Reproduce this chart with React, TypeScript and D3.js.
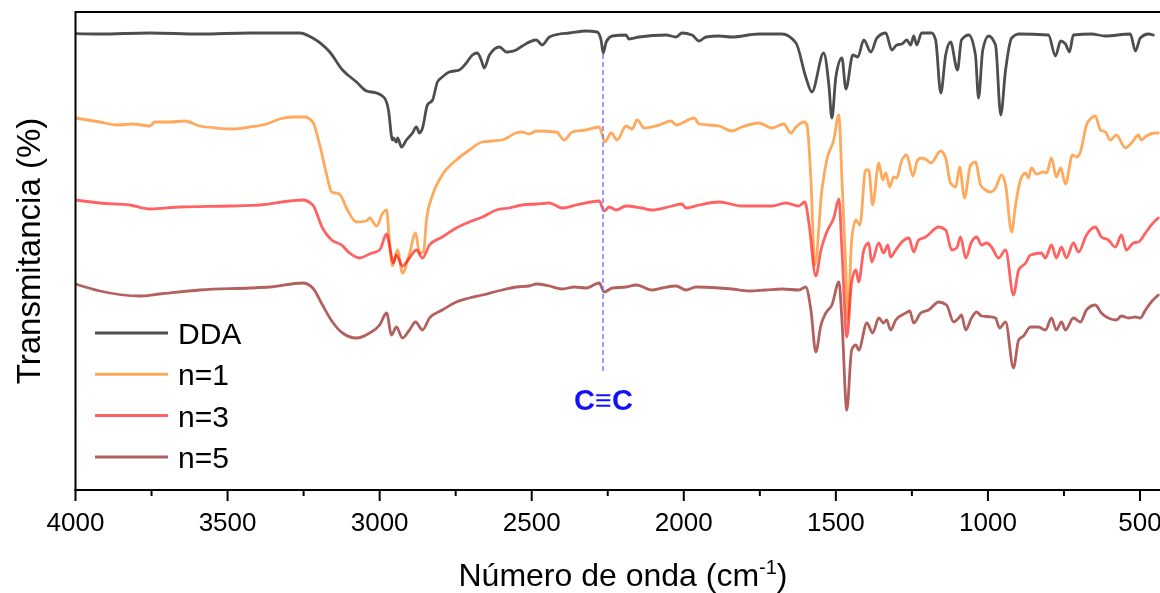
import React from "react";
import * as d3 from "d3";

// FTIR spectra: [wavenumber (cm-1), transmittance (arb. units, offset)]
const DDA: [number, number][] = [
  [4000, 114.1], [3920, 114], [3756, 114.25], [3591, 114], [3427, 114.25], [3263, 114.25],
  [3220, 113], [3164, 109.5], [3122, 105], [3076, 102], [3043, 99.75], [3010, 99.25],
  [2984, 98], [2971, 95], [2958, 87.5], [2955, 88], [2945, 87], [2941, 88], [2928, 85.75],
  [2912, 87.5], [2892, 89.25], [2879, 90.75], [2869, 89.25], [2859, 90.5], [2843, 96.25],
  [2826, 97.5], [2810, 102], [2794, 103.25], [2771, 104.5], [2738, 105], [2715, 106.75],
  [2695, 108.75], [2679, 109.25], [2666, 107.5], [2656, 105.5], [2639, 108.75], [2606, 110.75],
  [2583, 109.5], [2551, 110], [2531, 111], [2485, 112.5], [2465, 111.25], [2442, 113.25],
  [2409, 114], [2377, 114.25], [2321, 114.75], [2285, 114.5], [2272, 112.5], [2265, 109.25],
  [2255, 112], [2235, 113.5], [2190, 113.75], [2180, 112.75], [2147, 113.25], [2058, 113.75],
  [2025, 113.25], [2006, 114.25], [1973, 113.75], [1950, 112.25], [1927, 113.25], [1884, 113.5],
  [1842, 113.25], [1753, 114], [1677, 114], [1631, 111.75], [1599, 103.25], [1579, 99.5],
  [1540, 109.25], [1523, 101.25], [1513, 93], [1500, 103.25], [1480, 108], [1467, 100.25],
  [1444, 108.75], [1428, 108.25], [1408, 112.5], [1385, 109.5], [1365, 113], [1336, 114.25],
  [1316, 110], [1300, 111.25], [1283, 111.5], [1267, 112.5], [1254, 111.25], [1244, 113.5],
  [1234, 111.25], [1218, 114.25], [1185, 114.25], [1172, 112.5], [1155, 99.25], [1139, 108.75],
  [1123, 112], [1100, 105], [1087, 112.5], [1063, 113.75], [1041, 108.75], [1031, 98],
  [1017, 110], [998, 113.5], [975, 111.25], [958, 93.75], [942, 105], [922, 113], [899, 114],
  [801, 113.75], [778, 108.5], [761, 112.25], [745, 111.5], [732, 109.5], [719, 113.75],
  [660, 114], [614, 113.5], [532, 114], [515, 109.75], [499, 113], [473, 114], [456, 113.75],
];

const N1: [number, number][] = [
  [4000, 93], [3920, 92], [3864, 91.25], [3811, 91.5], [3756, 91], [3739, 92], [3690, 92],
  [3641, 92.25], [3591, 91], [3536, 90.5], [3483, 90.25], [3427, 90.75], [3371, 91.5],
  [3329, 92.75], [3286, 93.25], [3247, 93.25], [3220, 92], [3197, 86.25], [3174, 78.75],
  [3158, 74.5], [3132, 74], [3109, 70.5], [3076, 67], [3043, 67.25], [3033, 68], [3010, 66],
  [2990, 69.25], [2977, 70], [2968, 62.5], [2958, 56], [2941, 60], [2925, 54.25], [2902, 59],
  [2882, 64.25], [2869, 59.25], [2856, 59.5], [2846, 67.5], [2826, 73.75], [2794, 78.75],
  [2748, 82.5], [2705, 85], [2662, 87], [2597, 87.5], [2551, 89.25], [2531, 89.5], [2508, 89],
  [2485, 89.75], [2419, 89.5], [2393, 87.5], [2367, 89.5], [2321, 90], [2278, 90.75],
  [2259, 87], [2239, 89.25], [2219, 87.5], [2190, 91], [2170, 90.25], [2153, 92.5], [2130, 90.5],
  [2081, 91.25], [2042, 92.25], [2025, 91.25], [1966, 93], [1950, 91.5], [1884, 91],
  [1842, 89.75], [1809, 90.75], [1753, 91.75], [1710, 90.5], [1671, 91.5], [1648, 89.25],
  [1631, 90.75], [1605, 92], [1595, 91.25], [1582, 77.5], [1569, 56.25], [1546, 75],
  [1530, 82.5], [1507, 87.5], [1490, 93.75], [1480, 77.5], [1467, 55], [1461, 42.5],
  [1448, 62.5], [1434, 67.5], [1421, 66.25], [1402, 80], [1392, 80], [1379, 71.25],
  [1359, 81.75], [1346, 77.5], [1336, 79.25], [1323, 75.75], [1310, 78.25], [1300, 78],
  [1283, 82.5], [1267, 83.75], [1247, 78.5], [1231, 82.5], [1218, 83], [1201, 82.5],
  [1188, 81.75], [1155, 84.75], [1139, 83], [1123, 76.75], [1106, 75.75], [1093, 80.75],
  [1077, 73], [1057, 81.25], [1041, 82], [1024, 76.25], [1008, 75], [991, 74.5], [975, 75.5],
  [955, 78.75], [942, 76.25], [922, 64.5], [909, 71.25], [893, 77.5], [876, 79.25], [867, 78],
  [857, 80.5], [840, 79], [817, 79.5], [807, 79.25], [791, 83], [775, 78.25], [761, 80.5],
  [745, 76.5], [722, 83.75], [709, 83.25], [696, 84.5], [676, 91.25], [660, 93], [647, 93.5],
  [630, 90], [614, 89.5], [597, 87.5], [578, 88.75], [548, 85.5], [528, 86.75], [505, 88.75],
  [496, 87.5], [479, 88.5], [450, 89.25], [440, 89.25],
];

const N3: [number, number][] = [
  [4000, 72.5], [3920, 71.75], [3821, 71.25], [3756, 70.25], [3657, 70.75], [3493, 71],
  [3394, 71.25], [3296, 72.25], [3253, 72.5], [3220, 71.25], [3188, 65.5], [3158, 62.5],
  [3125, 61.25], [3099, 59.25], [3066, 58], [3033, 59], [3000, 60], [2977, 64], [2968, 61.25],
  [2955, 56.75], [2945, 58.75], [2925, 56], [2902, 58], [2879, 60], [2859, 58], [2836, 61.25],
  [2794, 63.25], [2748, 65.5], [2705, 67], [2662, 68.25], [2616, 70], [2574, 70.5],
  [2531, 71.25], [2485, 71.5], [2442, 71.75], [2400, 70.5], [2354, 71.25], [2278, 72.25],
  [2262, 69.75], [2245, 70.75], [2222, 70], [2190, 71], [2140, 70.5], [2104, 70], [2038, 71],
  [2006, 71.5], [1993, 70.5], [1950, 71.25], [1884, 72], [1809, 71], [1710, 71], [1664, 71.75],
  [1622, 71], [1602, 72], [1589, 67], [1566, 53.5], [1549, 60], [1530, 64.5], [1507, 68],
  [1490, 72.75], [1480, 60], [1464, 38.25], [1448, 52], [1434, 55], [1425, 52], [1408, 60],
  [1392, 61.75], [1382, 57], [1359, 61.75], [1343, 59.25], [1329, 61.25], [1320, 58.25],
  [1303, 60], [1283, 62], [1260, 63], [1244, 59.5], [1228, 62.5], [1205, 63.25], [1162, 65.75],
  [1139, 65], [1119, 60], [1103, 60.5], [1090, 63.25], [1073, 58], [1054, 62], [1037, 63.25],
  [1021, 61.25], [1004, 61.75], [988, 60.75], [965, 58], [942, 60], [916, 48.75], [899, 55],
  [876, 56.75], [860, 58.75], [824, 59.25], [811, 58], [791, 61.25], [775, 58], [758, 60.75],
  [742, 58], [719, 61.75], [702, 59.5], [676, 63.75], [647, 65.75], [627, 63.25], [604, 62.5],
  [581, 60.75], [561, 63.75], [545, 60], [522, 61.75], [505, 62], [482, 64.25], [463, 66.25],
  [440, 68],
];

const N5: [number, number][] = [
  [4000, 51.5], [3920, 49.75], [3788, 48.5], [3723, 49], [3591, 50], [3427, 50.5],
  [3362, 50.75], [3253, 51.75], [3220, 50.5], [3188, 46.25], [3155, 42], [3122, 39.25],
  [3076, 38], [3033, 39.25], [3000, 41.25], [2977, 44.25], [2961, 38.75], [2945, 40.75],
  [2925, 38], [2902, 40], [2882, 42], [2859, 40], [2836, 43], [2794, 45], [2748, 47],
  [2705, 48], [2662, 48.75], [2597, 50], [2551, 50.75], [2508, 51], [2485, 51.5], [2442, 51],
  [2400, 50.25], [2360, 50.75], [2321, 50.5], [2278, 51.75], [2262, 49.5], [2235, 50.5],
  [2190, 50.75], [2157, 51.25], [2104, 50], [2071, 50.5], [2025, 51], [1993, 50], [1960, 50.75],
  [1884, 50.5], [1842, 50.25], [1786, 49.75], [1730, 50], [1677, 50.25], [1622, 50],
  [1599, 50.75], [1582, 45], [1566, 34.5], [1549, 41.25], [1533, 44.25], [1513, 46.25],
  [1490, 52], [1480, 42.5], [1464, 20], [1448, 35], [1434, 36.25], [1425, 35], [1398, 41.75],
  [1379, 39.25], [1359, 43], [1343, 41.75], [1333, 42.5], [1320, 40], [1303, 42.5],
  [1270, 44.25], [1257, 44.75], [1244, 41.75], [1221, 44.25], [1195, 45], [1162, 47],
  [1136, 46.25], [1113, 42], [1096, 43], [1087, 43.75], [1073, 40], [1054, 43], [1037, 44.5],
  [1021, 43.5], [988, 43.25], [975, 43], [962, 40.5], [942, 42], [916, 30.5], [899, 37.5],
  [883, 38.5], [860, 40.75], [834, 40.75], [811, 40], [791, 43], [775, 40], [758, 42], [745, 40],
  [719, 43], [696, 42], [676, 45], [647, 46.25], [627, 44.25], [604, 43], [578, 42.5],
  [561, 43.5], [538, 43], [515, 43.25], [499, 43], [482, 45], [463, 47], [440, 48.75],
];

const SERIES_NAMES = ["DDA", "n=1", "n=3", "n=5"];
const SERIES_DATA = [DDA, N1, N3, N5];
const SERIES_COLORS = ["#4e4e4e", "#ffa95c", "#ff6262", "#b2615f"];

const X_MAJOR = [4000, 3500, 3000, 2500, 2000, 1500, 1000, 500];
const X_MINOR = [3750, 3250, 2750, 2250, 1750, 1250, 750];
const CC_POSITION = 2264;
const CC_LABEL = "C\u2261C";

const W = 1160;
const H = 593;
const FONT = "'Liberation Sans', Arial, Helvetica, sans-serif";

export default function App() {
  const x = d3.scaleLinear().domain([4000, 500]).range([75.5, 1140]);
  const y = d3.scaleLinear().domain([0, 119.5]).range([490, 12]);
  const left = x(4000);
  const top = y(119.5);
  const bottom = y(0);
  const ccX = Math.round(x(CC_POSITION));

  const line = d3
    .line<[number, number]>()
    .x((d) => x(d[0]))
    .y((d) => y(d[1]))
    .curve(d3.curveMonotoneX);

  React.useEffect(() => {
    document.body.style.margin = "0";
  }, []);

  return (
    <svg
      width={W}
      height={H}
      style={{ position: "fixed", left: 0, top: 0, background: "#fff", overflow: "hidden" }}
      fontFamily={FONT}
    >
      <defs>
        <clipPath id="plot">
          <rect x={left} y={top} width={W - left} height={bottom - top} />
        </clipPath>
      </defs>

      <g clipPath="url(#plot)">
        {SERIES_DATA.map((s, i) => (
          <path
            key={SERIES_NAMES[i]}
            d={line(s) || ""}
            fill="none"
            stroke={SERIES_COLORS[i]}
            strokeWidth={2.8}
            strokeLinejoin="round"
            strokeLinecap="round"
            style={{ mixBlendMode: "multiply" }}
          />
        ))}
      </g>

      <line
        x1={ccX}
        x2={ccX}
        y1={y(109)}
        y2={y(29.5)}
        stroke="#7a7aff"
        strokeWidth={1.5}
        strokeDasharray="5,3"
      />

      <text
        x={x(CC_POSITION)}
        y={410}
        textAnchor="middle"
        fontSize={29}
        fontWeight="bold"
        fill="#1010ff"
      >
        {CC_LABEL}
      </text>

      {/* frame */}
      <line x1={left} x2={W} y1={top} y2={top} stroke="#000" strokeWidth={2} />
      <line x1={left} x2={left} y1={top - 1} y2={bottom + 1} stroke="#000" strokeWidth={2} />
      <line x1={left - 1} x2={W} y1={bottom} y2={bottom} stroke="#000" strokeWidth={2} />

      {X_MAJOR.map((t) => (
        <g key={t}>
          <line x1={x(t)} x2={x(t)} y1={bottom} y2={bottom + 11} stroke="#000" strokeWidth={2} />
          <text x={x(t)} y={531} textAnchor="middle" fontSize={26} fill="#000">
            {t}
          </text>
        </g>
      ))}
      {X_MINOR.map((t) => (
        <line key={t} x1={x(t)} x2={x(t)} y1={bottom} y2={bottom + 6} stroke="#000" strokeWidth={2} />
      ))}

      <text x={623} y={586} textAnchor="middle" fontSize={32} fill="#000">
        Número de onda (cm<tspan dy={-12} fontSize={20}>-1</tspan>
        <tspan dy={12}>)</tspan>
      </text>
      <text
        transform={`translate(40, 251) rotate(-90)`}
        textAnchor="middle"
        fontSize={33}
        fill="#000"
      >
        Transmitancia (%)
      </text>

      {/* legend */}
      {SERIES_NAMES.map((name, i) => {
        const ly = 333 + i * 41.3;
        return (
          <g key={name}>
            <line x1={95} x2={168} y1={ly} y2={ly} stroke={SERIES_COLORS[i]} strokeWidth={3} />
            <text x={178} y={ly + 11} fontSize={30} fill="#000">
              {name}
            </text>
          </g>
        );
      })}
    </svg>
  );
}
